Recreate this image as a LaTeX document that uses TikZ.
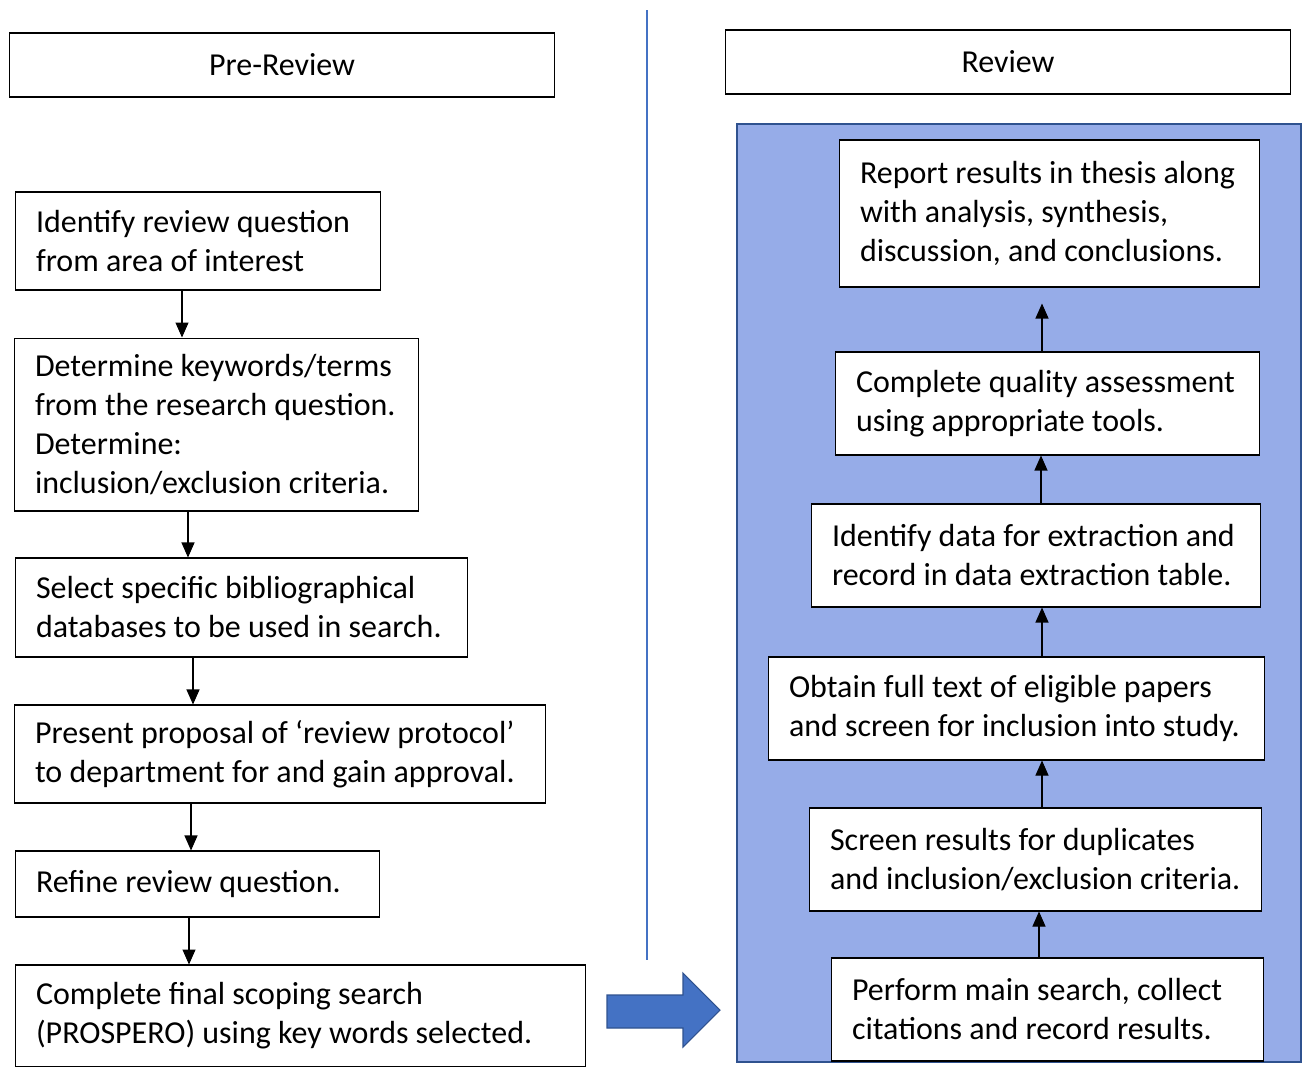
\documentclass[tikz,border=0pt]{standalone}
\usepackage{fontspec}
\setmainfont{Carlito}
\usepackage{xcolor}
\usetikzlibrary{arrows.meta}

\definecolor{panelblue}{RGB}{150,172,232}
\definecolor{edgeblue}{RGB}{47,82,143}
\definecolor{arrowblue}{RGB}{68,114,196}

\tikzset{
  stepbox/.style={draw, fill=white, line width=0.6pt, align=left, inner xsep=0.42cm, inner ysep=0pt,
    font=\fontsize{18.2}{22.2}\selectfont,
    execute at begin node={\rightskip=0pt plus 1fil minus 3cm\spaceskip=1.0\fontdimen2\font\relax}},
  headbox/.style={draw, fill=white, line width=0.6pt, minimum height=1.28cm, inner sep=0pt,
    font=\fontsize{18.2}{22.2}\selectfont},
  flow/.style={-{Triangle[width=0.26cm,length=0.3cm]}, line width=0.6pt}
}

\begin{document}
\begin{tikzpicture}[x=0.02cm, y=-0.02cm]
                \useasboundingbox (0,0) rectangle (1309,1066);

                % Background
                \draw[arrowblue, line width=0.8pt] (647,10) -- (647,960); % divider
                \draw[fill=panelblue, draw=edgeblue, line width=1pt] (737,124) rectangle (1301,1062); % review panel

                % Headers
                \node[headbox, minimum width=10.92cm] (pre) at (282,65) {Pre-Review};
                \node[headbox, minimum width=11.32cm] (rev) at (1008,62) {Review};

                % Pre-review nodes
                \node[stepbox, text width=6.48cm, minimum height=1.96cm] (idq) at (198,241)
                  {Identify review question\\from area of interest};
                \node[stepbox, text width=7.26cm, minimum height=3.46cm] (kw) at (216.5,424.5)
                  {Determine keywords/terms\\from the research question.\\Determine:\\inclusion/exclusion criteria.};
                \node[stepbox, text width=8.22cm, minimum height=1.98cm] (db) at (241.5,607.5)
                  {Select specific bibliographical\\databases to be used in search.};
                \node[stepbox, text width=9.80cm, minimum height=1.96cm] (prop) at (280,754)
                  {Present proposal of ‘review protocol’\\to department for and gain approval.};
                \node[stepbox, text width=6.46cm, minimum height=1.32cm] (refine) at (197.5,884)
                  {Refine review question.};
                \node[stepbox, text width=10.58cm, minimum height=2.04cm] (scope) at (300.5,1016)
                  {Complete final scoping search\\(PROSPERO) using key words selected.};

                % Review nodes
                \node[stepbox, text width=7.82cm, minimum height=2.06cm] (main) at (1047.5,1009.5)
                  {Perform main search, collect\\citations and record results.};
                \node[stepbox, text width=8.22cm, minimum height=2.06cm] (dup) at (1035.5,859.5)
                  {Screen results for duplicates\\and inclusion/exclusion criteria.};
                \node[stepbox, text width=9.10cm, minimum height=2.06cm] (full) at (1016.5,708.5)
                  {Obtain full text of eligible papers\\and screen for inclusion into study.};
                \node[stepbox, text width=8.16cm, minimum height=2.06cm] (extr) at (1036,555.5)
                  {Identify data for extraction and\\record in data extraction table.};
                \node[stepbox, text width=7.66cm, minimum height=2.06cm] (qual) at (1047.5,403.5)
                  {Complete quality assessment\\using appropriate tools.};
                \node[stepbox, text width=7.58cm, minimum height=2.94cm] (report) at (1049.5,213.5)
                  {Report results in thesis along\\with analysis, synthesis,\\discussion, and conclusions.};

                % Edges
                \draw[flow] ([xshift=-0.32cm]idq.south) -- ([xshift=-0.32cm]idq.south |- kw.north);
                \draw[flow] ([xshift=-0.57cm]kw.south) -- ([xshift=-0.57cm]kw.south |- db.north);
                \draw[flow] ([xshift=-0.97cm]db.south) -- ([xshift=-0.97cm]db.south |- prop.north);
                \draw[flow] ([xshift=-1.78cm]prop.south) -- ([xshift=-1.78cm]prop.south |- refine.north);
                \draw[flow] ([xshift=-0.17cm]refine.south) -- ([xshift=-0.17cm]refine.south |- scope.north);

                \draw[flow] ([xshift=-0.17cm]main.north) -- ([xshift=-0.17cm]main.north |- dup.south);
                \draw[flow] ([xshift=0.13cm]dup.north) -- ([xshift=0.13cm]dup.north |- full.south);
                \draw[flow] ([xshift=0.51cm]full.north) -- ([xshift=0.51cm]full.north |- extr.south);
                \draw[flow] ([xshift=0.1cm]extr.north) -- ([xshift=0.1cm]extr.north |- qual.south);
                \draw[flow, shorten >=0.32cm] ([xshift=-0.11cm]qual.north) -- ([xshift=-0.11cm]qual.north |- report.south);

                % Block arrow
                \draw[fill=arrowblue, draw=edgeblue, line width=0.6pt] (607,995) -- (683,995) -- (683,973)
                  -- (720,1010) -- (683,1047) -- (683,1028) -- (607,1028) -- cycle;
            \end{tikzpicture}
\end{document}
